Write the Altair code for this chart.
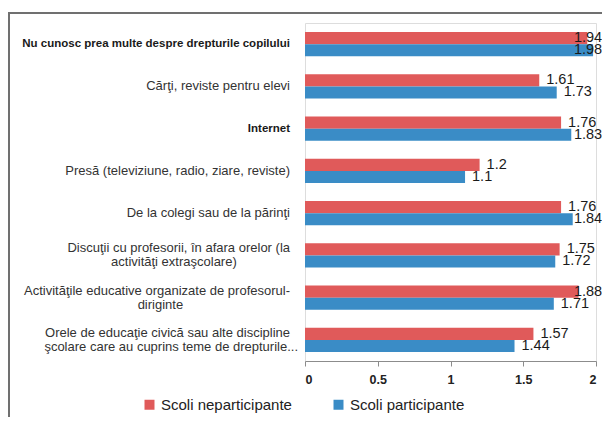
import altair as alt
import pandas as pd

# ---- data ----
categories = [
    "Nu cunosc prea multe despre drepturile copilului",
    "Cărţi, reviste pentru elevi",
    "Internet",
    "Presă (televiziune, radio, ziare, reviste)",
    "De la colegi sau de la părinţi",
    "Discuţii cu profesorii, în afara orelor (la activităţi extraşcolare)",
    "Activităţile educative organizate de profesorul-diriginte",
    "Orele de educaţie civică sau alte discipline şcolare care au cuprins teme de drepturile...",
]
label_line1 = [
    "Nu cunosc prea multe despre drepturile copilului",
    "Cărţi, reviste pentru elevi",
    "Internet",
    "Presă (televiziune, radio, ziare, reviste)",
    "De la colegi sau de la părinţi",
    "Discuţii cu profesorii, în afara orelor (la",
    "Activităţile educative organizate de profesorul-",
    "Orele de educaţie civică sau alte discipline",
]
label_line2 = [
    "", "", "", "", "",
    "activităţi extraşcolare)",
    "diriginte",
    "şcolare care au cuprins teme de drepturile...",
]
bold_labels = [True, False, True, False, False, False, False, False]

series = ["Scoli neparticipante", "Scoli participante"]
values_neparticipante = [1.94, 1.61, 1.76, 1.2, 1.76, 1.75, 1.88, 1.57]
values_participante = [1.98, 1.73, 1.83, 1.1, 1.84, 1.72, 1.71, 1.44]
x_ticks = [0, 0.5, 1, 1.5, 2]
colors = ["#E05A5A", "#3A8CC6"]

FONT = "Liberation Sans, Arial, sans-serif"

rows = []
for i, c in enumerate(categories):
    rows.append({"cat": c, "series": series[0], "value": values_neparticipante[i]})
    rows.append({"cat": c, "series": series[1], "value": values_participante[i]})
bar_df = pd.DataFrame(rows)

label_df = pd.DataFrame({
    "cat": categories,
    "line1": label_line1,
    "line2": label_line2,
    "bold": bold_labels,
})

y_axis = alt.Axis(labels=False, bandPosition=0, tickSize=5, domainColor="#8c8c8c",
                  tickColor="#8c8c8c", title=None, grid=False)
y_scale = alt.Scale(paddingInner=0, paddingOuter=0)

bars = alt.Chart(bar_df).mark_bar().encode(
    x=alt.X("value:Q", scale=alt.Scale(domain=[0, 2], nice=False),
            axis=alt.Axis(values=x_ticks, format="~g", title=None, grid=False,
                          tickSize=5, domainColor="#8c8c8c", tickColor="#8c8c8c",
                          labelFont=FONT, labelFontWeight="bold", labelFontSize=12.5,
                          labelColor="#222222", labelPadding=7)),
    y=alt.Y("cat:N", sort=categories, scale=y_scale, axis=y_axis),
    yOffset=alt.YOffset("series:N", sort=series,
                        scale=alt.Scale(paddingInner=0, paddingOuter=0.76)),
    color=alt.Color("series:N", sort=series,
                    scale=alt.Scale(domain=series, range=colors),
                    legend=alt.Legend(orient="none", legendX=-163, legendY=374,
                                      direction="horizontal", title=None,
                                      symbolType="square", symbolSize=100,
                                      symbolStrokeWidth=0, labelFont=FONT,
                                      labelFontSize=15, labelColor="#222222",
                                      labelOffset=4, columnPadding=39)),
)

vals = alt.Chart(bar_df).transform_calculate(
    lx="min(datum.value, 1.80)"
).mark_text(align="left", baseline="middle", dx=7, font=FONT, fontSize=14.5,
            color="#1a1a1a").encode(
    x=alt.X("lx:Q"),
    y=alt.Y("cat:N", sort=categories),
    yOffset=alt.YOffset("series:N", sort=series),
    text=alt.Text("value:Q", format="~g"),
)

lab = alt.Chart(label_df)
single_norm = lab.transform_filter("datum.line2 == '' && !datum.bold").mark_text(
    align="right", baseline="middle", font=FONT, fontSize=13, color="#333333"
).encode(x=alt.value(-15), y=alt.Y("cat:N", sort=categories, axis=None), text="line1:N")

single_bold = lab.transform_filter("datum.line2 == '' && datum.bold").mark_text(
    align="right", baseline="middle", font=FONT, fontSize=11.5, fontWeight="bold",
    color="#1a1a1a"
).encode(x=alt.value(-15), y=alt.Y("cat:N", sort=categories, axis=None), text="line1:N")

first_line = lab.transform_filter("datum.line2 != ''").mark_text(
    align="right", baseline="middle", dy=-7, font=FONT, fontSize=13, color="#333333"
).encode(x=alt.value(-15), y=alt.Y("cat:N", sort=categories, axis=None), text="line1:N")

second_line = lab.transform_filter("datum.line2 != ''").transform_calculate(
    cx="-15 - length(datum.line1) * 2.7"
).mark_text(
    align="center", baseline="middle", dy=7, font=FONT, fontSize=13, color="#333333"
).encode(x=alt.X("cx:Q", scale=None), y=alt.Y("cat:N", sort=categories, axis=None),
         text="line2:N")

frame_df = pd.DataFrame({"k": [0]})
left_line = alt.Chart(frame_df).mark_rule(color="#707070", strokeWidth=2).encode(
    x=alt.value(-296), y=alt.value(-10), y2=alt.value(400))
top_line = alt.Chart(frame_df).mark_rule(color="#707070", strokeWidth=2).encode(
    x=alt.value(-297), x2=alt.value(297), y=alt.value(-10))

chart = alt.layer(
    bars, vals, single_norm, single_bold, first_line, second_line, left_line, top_line
).properties(
    width=291, height=338,
    autosize=alt.AutoSizeParams(type="none"),
    padding={"left": 297, "top": 15, "right": 6, "bottom": 56},
).configure_view(stroke=None).configure(background="white")

chart.save("out.html", embed_options={"renderer": "svg", "actions": False})
